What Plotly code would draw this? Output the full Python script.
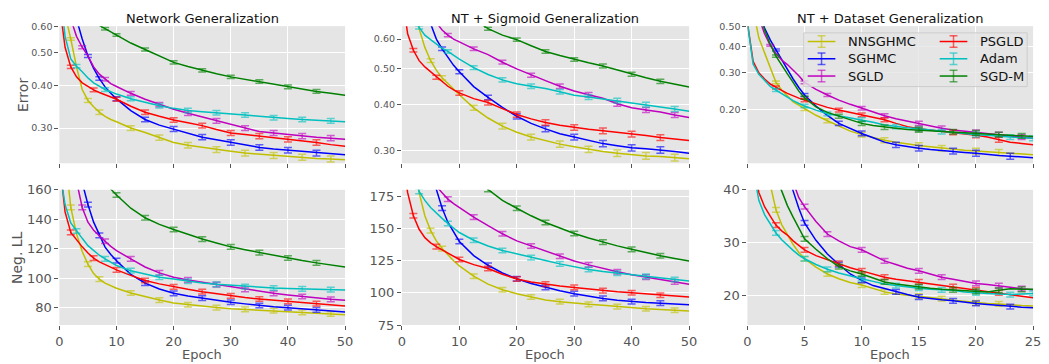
import plotly.graph_objects as go

# ---------------- data ----------------
EPOCHS_50 = [0, 1, 2, 3, 4, 5, 6, 7, 8, 9, 10, 12.5, 15, 17.5, 20, 22.5, 25, 27.5, 30,
             32.5, 35, 37.5, 40, 42.5, 45, 47.5, 50]
EPOCHS_25 = [0, 0.5, 1, 1.5, 2, 2.5, 3, 3.5, 4, 4.5, 5, 6, 7, 8, 9, 10, 11, 12, 13, 14,
             15, 16, 17, 18, 19, 20, 21, 22, 23, 24, 25]

METHODS = ["NNSGHMC", "SGHMC", "SGLD", "PSGLD", "Adam", "SGD-M"]
COLORS = ["#BFBF00", "#0000FF", "#BF00BF", "#FF0000", "#00BFBF", "#008000"]
ERR_COLORS = ["rgba(191,191,0,0.6)", "rgba(0,0,255,0.6)", "rgba(191,0,191,0.6)",
              "rgba(255,0,0,0.6)", "rgba(0,191,191,0.6)", "rgba(0,128,0,0.6)"]

TITLES = ["Network Generalization", "NT + Sigmoid Generalization", "NT + Dataset Generalization"]

# Panel 1: Network Generalization, test error
net_err_nnsghmc = [0.9, 0.65, 0.55, 0.455, 0.39, 0.362, 0.347, 0.334, 0.325, 0.318, 0.313, 0.30, 0.291, 0.281, 0.272, 0.267, 0.263, 0.259, 0.256, 0.253, 0.251, 0.249, 0.248, 0.246, 0.244, 0.243, 0.242]
net_err_sghmc = [1.2, 1.0, 0.8, 0.63, 0.55, 0.49, 0.45, 0.42, 0.397, 0.38, 0.366, 0.338, 0.318, 0.306, 0.298, 0.289, 0.282, 0.277, 0.272, 0.267, 0.263, 0.26, 0.258, 0.255, 0.253, 0.251, 0.25]
net_err_sgld = [1.0, 0.8, 0.63, 0.56, 0.52, 0.49, 0.455, 0.433, 0.418, 0.406, 0.398, 0.38, 0.365, 0.352, 0.341, 0.332, 0.324, 0.315, 0.307, 0.30, 0.293, 0.29, 0.287, 0.284, 0.282, 0.28, 0.278]
net_err_psgld = [0.7, 0.52, 0.455, 0.425, 0.408, 0.398, 0.389, 0.382, 0.376, 0.37, 0.365, 0.348, 0.334, 0.325, 0.317, 0.311, 0.305, 0.297, 0.29, 0.287, 0.284, 0.281, 0.278, 0.275, 0.272, 0.268, 0.265]
net_err_adam = [0.8, 0.56, 0.48, 0.457, 0.44, 0.422, 0.408, 0.398, 0.39, 0.384, 0.378, 0.366, 0.357, 0.349, 0.343, 0.338, 0.335, 0.333, 0.331, 0.328, 0.325, 0.322, 0.32, 0.318, 0.317, 0.315, 0.313]
net_err_sgdm = [0.95, 0.84, 0.77, 0.72, 0.685, 0.655, 0.628, 0.603, 0.59, 0.577, 0.565, 0.535, 0.512, 0.49, 0.469, 0.456, 0.444, 0.434, 0.425, 0.418, 0.412, 0.404, 0.397, 0.391, 0.385, 0.38, 0.375]

# Panel 2: NT + Sigmoid Generalization, test error
sig_err_nnsghmc = [2.0, 1.4, 0.9, 0.64, 0.57, 0.525, 0.495, 0.472, 0.455, 0.44, 0.425, 0.392, 0.368, 0.35, 0.337, 0.327, 0.32, 0.313, 0.308, 0.303, 0.299, 0.296, 0.293, 0.291, 0.29, 0.288, 0.286]
sig_err_sghmc = [2.0, 1.6, 1.3, 1.05, 0.8, 0.66, 0.6, 0.565, 0.535, 0.51, 0.49, 0.447, 0.418, 0.393, 0.372, 0.356, 0.344, 0.334, 0.327, 0.32, 0.314, 0.31, 0.306, 0.304, 0.302, 0.299, 0.296]
sig_err_sgld = [1.5, 1.3, 1.1, 0.95, 0.82, 0.73, 0.665, 0.635, 0.615, 0.60, 0.59, 0.565, 0.545, 0.52, 0.499, 0.48, 0.464, 0.448, 0.435, 0.425, 0.416, 0.402, 0.392, 0.387, 0.382, 0.375, 0.369]
sig_err_psgld = [0.8, 0.62, 0.56, 0.525, 0.505, 0.49, 0.474, 0.46, 0.448, 0.438, 0.43, 0.415, 0.405, 0.39, 0.376, 0.366, 0.358, 0.352, 0.347, 0.343, 0.34, 0.337, 0.333, 0.33, 0.326, 0.323, 0.32]
sig_err_adam = [1.0, 0.85, 0.7, 0.645, 0.615, 0.598, 0.582, 0.567, 0.556, 0.542, 0.53, 0.503, 0.482, 0.466, 0.455, 0.448, 0.442, 0.433, 0.424, 0.419, 0.414, 0.41, 0.405, 0.4, 0.394, 0.389, 0.384]
sig_err_sgdm = [1.5, 1.3, 1.15, 1.05, 0.98, 0.92, 0.87, 0.83, 0.79, 0.76, 0.73, 0.68, 0.64, 0.615, 0.598, 0.576, 0.556, 0.542, 0.529, 0.518, 0.508, 0.495, 0.483, 0.472, 0.462, 0.454, 0.446]

# Panel 3: NT + Dataset Generalization, test error
ds_err_nnsghmc = [0.9, 0.6, 0.44, 0.375, 0.32, 0.27, 0.248, 0.232, 0.218, 0.21, 0.202, 0.188, 0.177, 0.167, 0.158, 0.152, 0.147, 0.143, 0.14, 0.137, 0.135, 0.133, 0.131, 0.13, 0.128, 0.127, 0.126, 0.125, 0.124, 0.123, 0.122]
ds_err_sghmc = [1.1, 0.85, 0.62, 0.49, 0.43, 0.385, 0.345, 0.31, 0.28, 0.255, 0.235, 0.208, 0.188, 0.172, 0.162, 0.154, 0.147, 0.14, 0.136, 0.133, 0.131, 0.129, 0.128, 0.127, 0.125, 0.124, 0.123, 0.121, 0.12, 0.119, 0.118]
ds_err_sgld = [1.1, 0.8, 0.55, 0.46, 0.405, 0.37, 0.345, 0.328, 0.31, 0.29, 0.27, 0.25, 0.235, 0.222, 0.212, 0.203, 0.194, 0.187, 0.181, 0.176, 0.172, 0.167, 0.163, 0.16, 0.158, 0.156, 0.154, 0.152, 0.15, 0.148, 0.146]
ds_err_psgld = [0.52, 0.34, 0.30, 0.28, 0.265, 0.255, 0.247, 0.239, 0.232, 0.227, 0.222, 0.213, 0.205, 0.199, 0.194, 0.189, 0.184, 0.179, 0.172, 0.166, 0.162, 0.16, 0.158, 0.156, 0.153, 0.151, 0.148, 0.144, 0.14, 0.138, 0.136]
ds_err_adam = [0.52, 0.33, 0.295, 0.275, 0.258, 0.248, 0.238, 0.229, 0.221, 0.214, 0.208, 0.199, 0.191, 0.187, 0.183, 0.179, 0.174, 0.169, 0.166, 0.164, 0.162, 0.16, 0.157, 0.155, 0.153, 0.152, 0.151, 0.149, 0.148, 0.147, 0.146]
ds_err_sgdm = [1.0, 0.8, 0.6, 0.48, 0.41, 0.36, 0.325, 0.296, 0.27, 0.245, 0.228, 0.206, 0.194, 0.186, 0.179, 0.172, 0.168, 0.165, 0.163, 0.161, 0.16, 0.159, 0.158, 0.157, 0.156, 0.155, 0.154, 0.152, 0.151, 0.15, 0.149]

# Panel 4: Network Generalization, negative log-likelihood
net_nll_nnsghmc = [240, 185, 148, 130, 118, 109.5, 103, 99.2, 96.5, 94.5, 93, 89.8, 87.2, 85, 83, 81.8, 80.9, 79.9, 79.1, 78.7, 78.3, 77.8, 77.2, 76.6, 76.1, 75.5, 75]
net_nll_sghmc = [300, 270, 230, 195, 165, 150, 138, 129, 121, 116, 111.8, 102.5, 96.5, 92.5, 89.6, 87.8, 86.3, 84.8, 83.5, 82.4, 81.3, 80.5, 79.8, 79, 78.3, 77.6, 76.9]
net_nll_sgld = [250, 220, 190, 166, 148, 138, 132.5, 128.5, 125, 121.5, 118.6, 113, 107.5, 103.5, 100.5, 98.7, 97.2, 95.5, 94, 92.3, 90.7, 89.6, 88.5, 87.4, 86.3, 85.5, 84.8]
net_nll_psgld = [180, 145, 131, 126, 121.2, 117, 113.5, 111, 109, 107.3, 105.5, 101.8, 98.3, 96, 94, 92.3, 90.7, 89.2, 87.8, 86.7, 85.7, 84.9, 84.1, 83.3, 82.6, 81.8, 80.9]
net_nll_adam = [175, 150, 137.5, 132, 127, 122, 118.5, 115.5, 113, 110.5, 108.5, 105, 102.5, 100.5, 99.4, 97.8, 96.6, 95.7, 95, 94.2, 93.5, 93.2, 92.9, 92.6, 92.4, 92.1, 91.8]
net_nll_sgdm = [260, 240, 225, 212, 200, 190, 181, 173, 166, 160.5, 156.5, 147.5, 141, 136.5, 133, 129.5, 126.5, 123.8, 121.2, 119.2, 117.3, 115.4, 113.6, 111.9, 110.3, 108.8, 107.5]

# Panel 5: NT + Sigmoid Generalization, negative log-likelihood
sig_nll_nnsghmc = [300, 250, 210, 178, 160, 148.5, 140.5, 134.5, 129.5, 125, 121, 113, 106.8, 102.5, 99.4, 96.8, 94.5, 93.2, 92, 91.1, 90.3, 89.3, 88.3, 87.7, 87.1, 86.5, 85.9]
sig_nll_sghmc = [320, 290, 265, 240, 215, 195, 181, 166, 155, 147, 140, 129, 121.5, 115.5, 111, 107.3, 104.3, 101.7, 99.4, 97.4, 95.7, 94.3, 93.2, 92.5, 92, 91.3, 90.8]
sig_nll_sgld = [300, 275, 250, 230, 210, 194, 183, 178, 173, 169.5, 166.5, 159, 152.3, 146, 140.5, 136.5, 132.6, 128.5, 124.8, 121.8, 119, 116.5, 114.2, 112.3, 110.5, 108.6, 106.8]
sig_nll_psgld = [210, 178, 160, 149.5, 143, 139, 136, 133.5, 131, 128.5, 126, 122, 119, 114.5, 110.8, 108.5, 106.8, 105.4, 104.3, 103, 101.8, 100.9, 100.1, 99.2, 98.2, 97.5, 96.9]
sig_nll_adam = [230, 210, 192, 179, 172, 166.5, 162, 158, 154, 150.5, 147, 141, 136.5, 133, 130.2, 127.5, 125.2, 122.6, 120.3, 118.3, 116.6, 115.3, 114.2, 112.9, 111.7, 110.4, 109.2]
sig_nll_sgdm = [330, 310, 290, 275, 260, 248, 238, 229, 221, 214, 207, 192, 180.5, 172, 165.9, 160, 154.8, 150.2, 146.2, 142.7, 139.5, 136.6, 133.9, 131.3, 128.9, 126.8, 124.8]

# Panel 6: NT + Dataset Generalization, negative log-likelihood
ds_nll_nnsghmc = [100, 80, 63, 50, 41, 36.2, 33.4, 31.4, 29.6, 28.1, 26.9, 25.3, 24, 23.1, 22.4, 21.9, 21.2, 20.6, 20.2, 20, 19.8, 19.5, 19.3, 19, 18.8, 18.5, 18.4, 18.3, 18.1, 18, 17.9]
ds_nll_sghmc = [150, 120, 100, 85, 72, 60, 51, 44.5, 39.8, 36.5, 33.7, 30.4, 27.8, 25.8, 24, 22.8, 21.8, 21.2, 20.6, 20.1, 19.6, 19.3, 19.1, 18.9, 18.6, 18.4, 18.2, 18, 17.8, 17.7, 17.6]
ds_nll_sgld = [150, 120, 100, 85, 70, 60, 51, 46, 41.5, 38.5, 36.8, 34, 31.6, 30.3, 29.2, 28.6, 27.5, 26.5, 25.8, 25.1, 24.6, 24, 23.4, 23, 22.6, 22.2, 22, 21.8, 21.5, 21.2, 21]
ds_nll_psgld = [55, 46, 39.5, 36.8, 35, 33.3, 32.2, 31.4, 30.3, 29.4, 28.6, 27.5, 26.7, 26, 25.2, 24.6, 24, 23.4, 23, 22.7, 22.5, 22.2, 21.9, 21.6, 21.3, 21, 20.7, 20.4, 20, 19.8, 19.5]
ds_nll_adam = [50, 44, 38, 35.3, 33.5, 31.8, 30.5, 29.4, 28.5, 27.6, 26.9, 25.8, 24.9, 24.2, 23.6, 23.1, 22.6, 22.1, 21.8, 21.5, 21.3, 21.1, 21, 20.9, 20.6, 20.4, 20.3, 20.2, 20.1, 20.2, 20.3]
ds_nll_sgdm = [90, 75, 63, 54, 47, 42.5, 39.8, 37, 34.8, 32.6, 30.7, 28.7, 26.9, 25.4, 24.6, 24, 23.2, 22.5, 22.1, 21.8, 21.6, 21.3, 21.1, 21, 20.9, 20.7, 20.6, 20.9, 21.2, 21.1, 21.1]

# epochs at which error bars are drawn (per method)
ERRBAR_EPOCHS_50 = [
    [2, 5, 7, 12.5, 17.5, 22.5, 27.5, 32.5, 37.5, 42.5, 47.5],
    [5, 7, 10, 15, 20, 25, 30, 35, 40, 45],
    [4, 8, 12.5, 17.5, 22.5, 27.5, 32.5, 37.5, 42.5, 47.5],
    [2, 6, 10, 15, 20, 25, 30, 35, 40, 45],
    [3, 8, 12.5, 17.5, 22.5, 27.5, 32.5, 37.5, 42.5, 47.5],
    [8, 10, 15, 20, 25, 30, 35, 40, 45],
]
ERRBAR_EPOCHS_25 = [
    [2.5, 5, 7, 10, 12, 15, 17, 20, 22],
    [2.5, 5, 8, 10, 13, 15, 18, 20, 23],
    [2, 5, 7, 10, 12, 15, 17, 20, 22, 24],
    [2.5, 5, 8, 10, 12, 15, 18, 20, 22],
    [2.5, 5, 7, 10, 13, 15, 17, 20, 23, 25],
    [2.5, 5, 8, 10, 12, 15, 18, 20, 22, 24],
]
# half-height of the error bars in each panel (data units)
ERRBAR_SIZE = [0.005, 0.006, 0.004, 1.6, 1.8, 0.45]

# y ticks
YTICKS = [
    [0.3, 0.4, 0.5, 0.6],
    [0.3, 0.4, 0.5, 0.6],
    [0.2, 0.3, 0.4, 0.5],
    [80, 100, 120, 140, 160],
    [75, 100, 125, 150, 175],
    [20, 30, 40],
]
YTICKTEXT = [
    ["0.30", "0.40", "0.50", "0.60"],
    ["0.30", "0.40", "0.50", "0.60"],
    ["0.20", "0.30", "0.40", "0.50"],
    ["80", "100", "120", "140", "160"],
    ["75", "100", "125", "150", "175"],
    ["20", "30", "40"],
]
XTICKS_50 = [0, 10, 20, 30, 40, 50]
XTICKS_25 = [0, 5, 10, 15, 20, 25]

PANEL_SERIES = [
    [net_err_nnsghmc, net_err_sghmc, net_err_sgld, net_err_psgld, net_err_adam, net_err_sgdm],
    [sig_err_nnsghmc, sig_err_sghmc, sig_err_sgld, sig_err_psgld, sig_err_adam, sig_err_sgdm],
    [ds_err_nnsghmc, ds_err_sghmc, ds_err_sgld, ds_err_psgld, ds_err_adam, ds_err_sgdm],
    [net_nll_nnsghmc, net_nll_sghmc, net_nll_sgld, net_nll_psgld, net_nll_adam, net_nll_sgdm],
    [sig_nll_nnsghmc, sig_nll_sghmc, sig_nll_sgld, sig_nll_psgld, sig_nll_adam, sig_nll_sgdm],
    [ds_nll_nnsghmc, ds_nll_sghmc, ds_nll_sgld, ds_nll_psgld, ds_nll_adam, ds_nll_sgdm],
]
PANEL_EPOCHS = [EPOCHS_50, EPOCHS_50, EPOCHS_25, EPOCHS_50, EPOCHS_50, EPOCHS_25]
PANEL_ERRBARS = [ERRBAR_EPOCHS_50, ERRBAR_EPOCHS_50, ERRBAR_EPOCHS_25,
                 ERRBAR_EPOCHS_50, ERRBAR_EPOCHS_50, ERRBAR_EPOCHS_25]

# ---------------- layout geometry ----------------
W, H = 1049, 364
FONT = "DejaVu Sans"
GRAY = "#555555"
COL_PX = [(56, 345), (402.5, 693), (752, 1041)]
ROW_PX = [(20, 163), (190.7, 331.7)]
Y_TYPES = ["log", "log", "log", "linear", "linear", "linear"]
Y_RANGES = [[-0.627, -0.2218], [-0.556, -0.187], [-0.9547, -0.301],
            [68, 160], [75, 180.2], [14.3, 40]]


def px_x(p):
    return p / W


def px_y(p):
    return 1 - p / H


fig = go.Figure()

for p in range(6):
    ax = "" if p == 0 else str(p + 1)
    xs = PANEL_EPOCHS[p]
    for m in range(6):
        ys = PANEL_SERIES[p][m]
        fig.add_trace(go.Scatter(
            x=xs, y=ys, mode="lines", line=dict(color=COLORS[m], width=1.5),
            name=METHODS[m], showlegend=False, hoverinfo="skip",
            xaxis="x" + ax, yaxis="y" + ax,
        ))
        idx = [xs.index(e) for e in PANEL_ERRBARS[p][m]]
        fig.add_trace(go.Scatter(
            x=[xs[i] for i in idx], y=[ys[i] for i in idx], mode="markers",
            marker=dict(size=2, color=COLORS[m], opacity=0),
            error_y=dict(type="constant", value=ERRBAR_SIZE[p], color=ERR_COLORS[m],
                         thickness=1.5, width=4),
            showlegend=False, hoverinfo="skip",
            xaxis="x" + ax, yaxis="y" + ax,
        ))

layout = dict(
    width=W, height=H,
    margin=dict(l=0, r=0, t=0, b=0),
    paper_bgcolor="white",
    plot_bgcolor="#E5E5E5",
    font=dict(family=FONT, color=GRAY),
    showlegend=False,
)

for p in range(6):
    r, c = divmod(p, 3)
    key = "" if p == 0 else str(p + 1)
    bottom = r == 1
    is25 = c == 2
    layout["xaxis" + key] = dict(
        domain=[px_x(COL_PX[c][0]), px_x(COL_PX[c][1])],
        anchor="y" + key,
        range=[0, 25] if is25 else [0, 50],
        tickvals=XTICKS_25 if is25 else XTICKS_50,
        showticklabels=bottom,
        tickfont=dict(size=13, color=GRAY, family=FONT),
        ticks="outside", ticklen=4, tickcolor=GRAY, tickwidth=1,
        showgrid=True, gridcolor="white", gridwidth=1,
        zeroline=False, showline=False,
    )
    layout["yaxis" + key] = dict(
        domain=[px_y(ROW_PX[r][1]), px_y(ROW_PX[r][0])],
        anchor="x" + key,
        type=Y_TYPES[p],
        range=Y_RANGES[p],
        tickvals=YTICKS[p], ticktext=YTICKTEXT[p], tickmode="array",
        tickfont=dict(size=13 if bottom else 9.5, color=GRAY, family=FONT),
        ticks="outside", ticklen=4, tickcolor=GRAY, tickwidth=1,
        showgrid=True, gridcolor="white", gridwidth=1,
        zeroline=False, showline=False,
    )

# ---------- legend (drawn as a framed box with error-bar glyphs) ----------
shapes = [dict(
    type="rect", xref="paper", yref="paper",
    x0=px_x(809), x1=px_x(1035), y0=px_y(83), y1=px_y(27),
    fillcolor="rgba(229,229,229,0.8)", line=dict(color="#CCCCCC", width=1),
    layer="above",
)]
ann = []
LEG_COL_X = [813, 946.5]
for m in range(6):
    col, row = divmod(m, 3)
    x0 = LEG_COL_X[col]
    yc = 36 + 18 * row

    def seg(xa, ya, xb, yb, color):
        return dict(type="line", xref="paper", yref="paper",
                    x0=px_x(xa), y0=px_y(ya), x1=px_x(xb), y1=px_y(yb),
                    line=dict(color=color, width=1.5), layer="above")

    shapes.append(seg(x0, yc, x0 + 28, yc, COLORS[m]))
    shapes.append(seg(x0 + 14, yc - 6, x0 + 14, yc + 6, ERR_COLORS[m]))
    shapes.append(seg(x0 + 10, yc - 6, x0 + 18, yc - 6, ERR_COLORS[m]))
    shapes.append(seg(x0 + 10, yc + 6, x0 + 18, yc + 6, ERR_COLORS[m]))
    ann.append(dict(text=METHODS[m], x=px_x(x0 + 38.5), y=px_y(yc), xref="paper", yref="paper",
                    showarrow=False, font=dict(size=13, color="#111111", family=FONT),
                    xanchor="left", yanchor="middle"))
layout["shapes"] = shapes

title_x = [200.5, 547.5, 896]
for c in range(3):
    ann.append(dict(text=TITLES[c], x=px_x(title_x[c]), y=px_y(11.5), xref="paper", yref="paper",
                    showarrow=False, font=dict(size=13, color="#111111", family=FONT),
                    xanchor="center", yanchor="middle"))
    ann.append(dict(text="Epoch", x=px_x(title_x[c]), y=px_y(353), xref="paper", yref="paper",
                    showarrow=False, font=dict(size=13, color=GRAY, family=FONT),
                    xanchor="center", yanchor="top"))
ann.append(dict(text="Error", x=px_x(19), y=px_y(92), xref="paper", yref="paper",
                showarrow=False, textangle=-90, font=dict(size=14, color=GRAY, family=FONT),
                xanchor="center", yanchor="middle"))
ann.append(dict(text="Neg. LL", x=px_x(13), y=px_y(261), xref="paper", yref="paper",
                showarrow=False, textangle=-90, font=dict(size=14, color=GRAY, family=FONT),
                xanchor="center", yanchor="middle"))
layout["annotations"] = ann

fig.update_layout(**layout)
fig.write_html("out.html",
               config={"displayModeBar": False},
               post_script="document.body.style.margin='0';document.body.style.padding='0';")
